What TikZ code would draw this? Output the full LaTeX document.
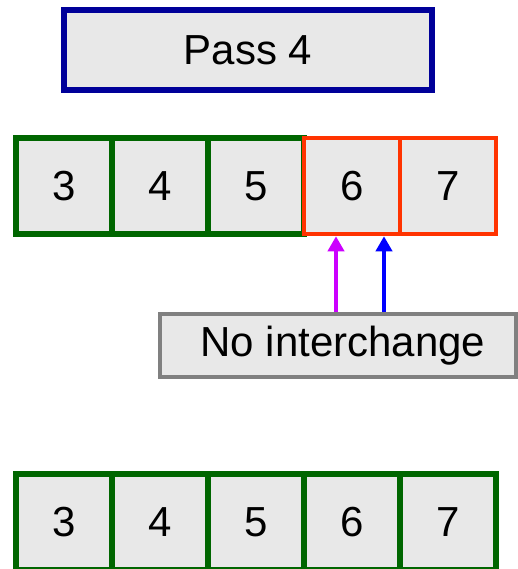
\documentclass[tikz,border=0pt]{standalone}
\usepackage{fontspec}
\setmainfont{Liberation Sans}
\usetikzlibrary{arrows.meta}
\definecolor{cellfill}{HTML}{E8E8E8}
\definecolor{passblue}{HTML}{000099}
\definecolor{cellgreen}{HTML}{006600}
\definecolor{cellred}{HTML}{FF3300}
\definecolor{boxgray}{HTML}{808080}
\definecolor{magarrow}{HTML}{CC00FF}
\definecolor{bluearrow}{HTML}{0000FF}
\tikzset{
  base/.style={rectangle, fill=cellfill, inner sep=0pt, font=\fontsize{42}{50}\selectfont},
  passbox/.style={base, draw=passblue, line width=6pt, minimum width=368pt, minimum height=80pt},
  gcell/.style={base, draw=cellgreen, line width=6pt, minimum width=96pt, minimum height=96pt},
  rcell/.style={base, draw=cellred, line width=4.5pt, minimum width=96pt, minimum height=96pt},
  notebox/.style={base, draw=boxgray, line width=4pt, minimum width=356pt, minimum height=63pt},
  uparrow/.style={line width=4pt, -{Triangle[width=16pt,length=15pt]}}
}
\begin{document}
\begin{tikzpicture}[x=1pt, y=-1pt]
\useasboundingbox (0,0) rectangle (518,569);
\node[passbox] (pass) at (248,50) {Pass 4};
% row 1
\node[gcell] (a3) at (64,186) {3};
\node[gcell] (a4) at (160,186) {4};
\node[gcell] (a5) at (256,186) {5};
\node[rcell] (a6) at (352,186) {6};
\node[rcell] (a7) at (448,186) {7};
% note box
\node[notebox] (ni) at (338,345.5) {\hspace*{10pt}No interchange};
\coordinate (mx) at (336,0);
\coordinate (bx) at (384,0);
\draw[uparrow, magarrow] (ni.north -| mx) -- (a6.south -| mx);
\draw[uparrow, bluearrow] (ni.north -| bx) -- (a6.south -| bx);
% row 3
\node[gcell] (b3) at (64,522) {3};
\node[gcell] (b4) at (160,522) {4};
\node[gcell] (b5) at (256,522) {5};
\node[gcell] (b6) at (352,522) {6};
\node[gcell] (b7) at (448,522) {7};
\end{tikzpicture}
\end{document}
